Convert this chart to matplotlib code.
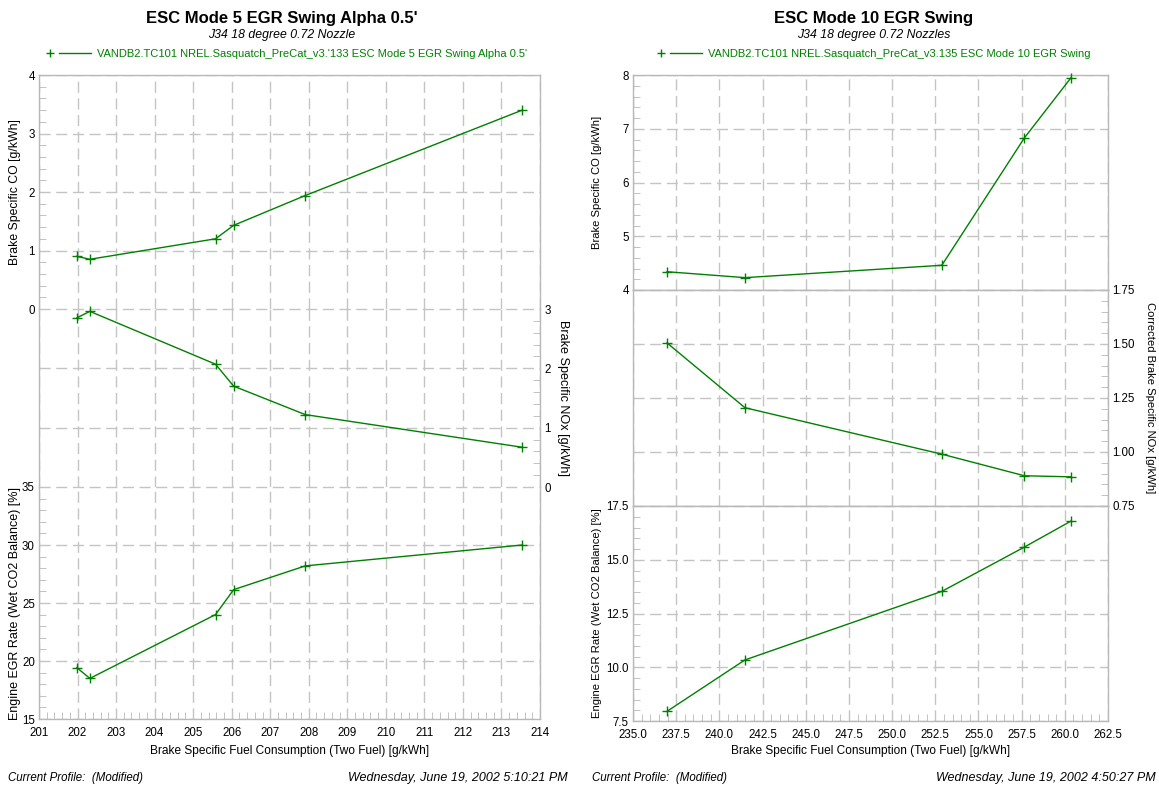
import matplotlib
matplotlib.use("Agg")
import matplotlib.pyplot as plt
from matplotlib.ticker import MultipleLocator, FormatStrFormatter
from matplotlib.legend_handler import HandlerBase
from matplotlib.lines import Line2D

plt.rcParams['font.family'] = ['Liberation Sans', 'DejaVu Sans']

# ---------------- data ----------------
# Left chart: ESC Mode 5 EGR Swing Alpha 0.5'
bsfc_m5 = [201.98, 202.32, 205.58, 206.05, 207.91, 213.54]
co_m5 = [0.90, 0.85, 1.20, 1.43, 1.94, 3.40]
nox_m5 = [2.85, 2.96, 2.07, 1.70, 1.22, 0.67]
egr_m5 = [19.43, 18.5, 24.0, 26.15, 28.2, 30.0]

# Right chart: ESC Mode 10 EGR Swing
bsfc_m10 = [236.97, 241.48, 252.88, 257.66, 260.36]
co_m10 = [4.34, 4.23, 4.46, 6.83, 7.95]
nox_m10 = [1.505, 1.205, 0.99, 0.89, 0.885]
egr_m10 = [7.95, 10.34, 13.53, 15.59, 16.8]

titles = ["ESC Mode 5 EGR Swing Alpha 0.5'", "ESC Mode 10 EGR Swing"]
subtitles = ["J34 18 degree 0.72 Nozzle", "J34 18 degree 0.72 Nozzles"]
series_names = ["VANDB2.TC101 NREL.Sasquatch_PreCat_v3.'133 ESC Mode 5 EGR Swing Alpha 0.5'",
                "VANDB2.TC101 NREL.Sasquatch_PreCat_v3.135 ESC Mode 10 EGR Swing"]
footer_left = "Current Profile:  (Modified)"
footer_dates = ["Wednesday, June 19, 2002 5:10:21 PM", "Wednesday, June 19, 2002 4:50:27 PM"]
xlabel = "Brake Specific Fuel Consumption (Two Fuel) [g/kWh]"

# ---------------- style ----------------
W, H = 1159, 786
GREEN = '#008000'
GRID = '#c4c4c4'
SPINE = '#b8b8b8'
TICK_FS = 8.3

fig = plt.figure(figsize=(W / 100, H / 100), dpi=100)


def fx(px):
    return px / W


def ax_at(x0, x1, y0, y1):
    return fig.add_axes([x0 / W, 1 - y1 / H, (x1 - x0) / W, (y1 - y0) / H])


def style(ax, xlim, xmaj, xmin, ylim, ymaj, ymin, side='left', fmt=None, show_x=False):
    ax.set_xlim(*xlim)
    ax.set_ylim(*ylim)
    ax.xaxis.set_major_locator(MultipleLocator(xmaj))
    ax.xaxis.set_minor_locator(MultipleLocator(xmin))
    ax.yaxis.set_major_locator(MultipleLocator(ymaj))
    ax.yaxis.set_minor_locator(MultipleLocator(ymin))
    if fmt:
        ax.yaxis.set_major_formatter(FormatStrFormatter(fmt))
    ax.grid(True, which='major', color=GRID, linestyle=(0, (8, 4)), linewidth=1)
    for s in ax.spines.values():
        s.set_color(SPINE)
        s.set_linewidth(1)
    if side == 'right':
        ax.yaxis.tick_right()
        ax.tick_params(axis='y', which='both', left=False, right=True)
    else:
        ax.tick_params(axis='y', which='both', left=True, right=False)
    ax.tick_params(axis='y', which='major', length=0, pad=3, labelsize=TICK_FS)
    ax.tick_params(axis='y', which='minor', direction='in', length=5, color=SPINE)
    ax.tick_params(axis='x', which='both', top=False)
    if show_x:
        ax.tick_params(axis='x', which='major', length=0, pad=6, labelsize=TICK_FS)
        ax.tick_params(axis='x', which='minor', direction='in', length=5, color=SPINE,
                       bottom=True)
    else:
        ax.tick_params(axis='x', which='both', bottom=False, labelbottom=False)


def plot(ax, x, y):
    ax.plot(x, y, color=GREEN, linewidth=1, marker='+', markersize=7,
            markeredgewidth=1, clip_on=False, zorder=5)


def ylab(ax, text, xpix, x0, x1, fs, right=False):
    ax.set_ylabel(text, fontsize=fs, rotation=-90 if right else 90, va='center',
                  ha='center')
    ax.yaxis.set_label_coords((xpix - x0) / (x1 - x0), 0.5)


class PlusLineHandler(HandlerBase):
    def create_artists(self, legend, orig_handle, xdescent, ydescent, width, height,
                       fontsize, trans):
        y = height / 2 - ydescent
        m = Line2D([-xdescent + 2], [y], marker='+', markersize=6, markeredgewidth=1,
                   color=GREEN, linestyle='none', transform=trans)
        ln = Line2D([-xdescent + 0.27 * width, -xdescent + width], [y, y], color=GREEN,
                    linewidth=1, transform=trans)
        return [m, ln]


# ---------------- left chart ----------------
LX0, LX1 = 39, 540
LB = 719
axL1 = ax_at(LX0, LX1, 75, 309)
axL2 = ax_at(LX0, LX1, 309, 487)
axL3 = ax_at(LX0, LX1, 487, LB)

style(axL1, (201, 214), 1, 0.2, (0, 4), 1, 0.2)
style(axL2, (201, 214), 1, 0.2, (0, 3), 1, 0.2, side='right')
style(axL3, (201, 214), 1, 0.2, (15, 35), 5, 1, show_x=True)
axL1.spines['bottom'].set_visible(False)
axL2.spines['top'].set_visible(False)
axL2.spines['bottom'].set_visible(False)
axL3.spines['top'].set_visible(False)

plot(axL1, bsfc_m5, co_m5)
plot(axL2, bsfc_m5, nox_m5)
plot(axL3, bsfc_m5, egr_m5)

ylab(axL1, "Brake Specific CO [g/kWh]", 15, LX0, LX1, 8.8)
ylab(axL2, "Brake Specific NOx [g/kWh]", 563, LX0, LX1, 9.1, right=True)
ylab(axL3, "Engine EGR Rate (Wet CO2 Balance) [%]", 15, LX0, LX1, 9.0)
axL3.set_xlabel(xlabel, fontsize=8.6, va='center')
axL3.xaxis.set_label_coords(0.5, -(751 - LB) / (LB - 487))

# ---------------- right chart ----------------
RX0, RX1 = 633, 1108
RB = 721
axR1 = ax_at(RX0, RX1, 75, 290)
axR2 = ax_at(RX0, RX1, 290, 506)
axR3 = ax_at(RX0, RX1, 506, RB)

style(axR1, (235, 262.5), 2.5, 0.5, (4, 8), 1, 0.2)
style(axR2, (235, 262.5), 2.5, 0.5, (0.75, 1.75), 0.25, 0.05, side='right', fmt='%.2f')
style(axR3, (235, 262.5), 2.5, 0.5, (7.5, 17.5), 2.5, 0.5, fmt='%.1f', show_x=True)
axR3.xaxis.set_major_formatter(FormatStrFormatter('%.1f'))

plot(axR1, bsfc_m10, co_m10)
plot(axR2, bsfc_m10, nox_m10)
plot(axR3, bsfc_m10, egr_m10)

ylab(axR1, "Brake Specific CO [g/kWh]", 597, RX0, RX1, 8.1)
ylab(axR2, "Corrected Brake Specific NOx [g/kWh]", 1150, RX0, RX1, 8.1, right=True)
ylab(axR3, "Engine EGR Rate (Wet CO2 Balance) [%]", 597, RX0, RX1, 8.1)
axR3.set_xlabel(xlabel, fontsize=8.6, va='center')
axR3.xaxis.set_label_coords(0.5, -(751 - RB) / (RB - 506))

# ---------------- titles, legends, footers ----------------
for tx, lx, t, st, name, ax in [(282, 287, titles[0], subtitles[0], series_names[0], axL1),
                                (874, 874, titles[1], subtitles[1], series_names[1], axR1)]:
    fig.text(fx(tx), 1 - 18 / H, t, ha='center', va='center', fontsize=12,
             fontweight='bold')
    fig.text(fx(tx), 1 - 35 / H, st, ha='center', va='center', fontsize=8.8,
             style='italic')
    h = Line2D([], [], color=GREEN)
    ax.legend(handles=[h], labels=[name], handler_map={Line2D: PlusLineHandler()},
              loc='center', bbox_to_anchor=(fx(lx), 1 - 54 / H),
              bbox_transform=fig.transFigure, frameon=False, fontsize=8,
              labelcolor=GREEN, handlelength=4.0, handletextpad=0.5, borderpad=0)

fig.text(fx(8), 1 - 778 / H, footer_left, ha='left', va='center', fontsize=8.3,
         style='italic')
fig.text(fx(568), 1 - 778 / H, footer_dates[0], ha='right', va='center', fontsize=9,
         style='italic')
fig.text(fx(592), 1 - 778 / H, footer_left, ha='left', va='center', fontsize=8.3,
         style='italic')
fig.text(fx(1156), 1 - 778 / H, footer_dates[1], ha='right', va='center', fontsize=9,
         style='italic')

fig.savefig("out.png", dpi=100, facecolor='white')
